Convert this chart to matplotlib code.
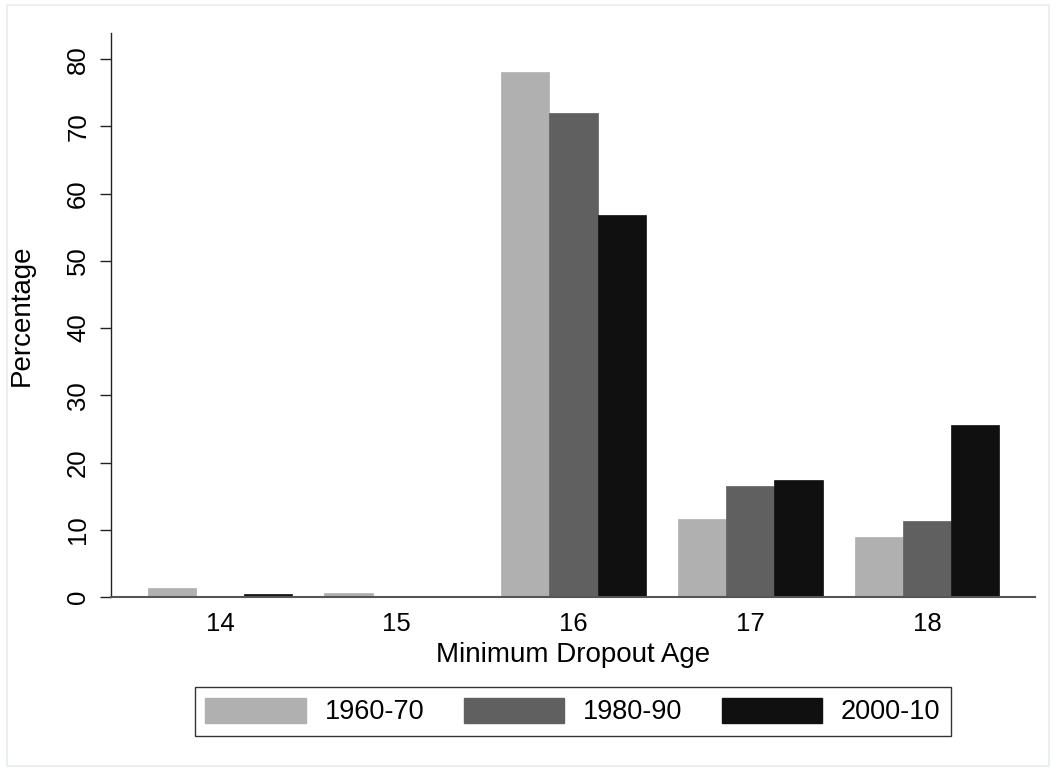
import numpy as np
import matplotlib
matplotlib.use('Agg')
import matplotlib.pyplot as plt
from matplotlib.patches import Rectangle, Patch

ages = [14, 15, 16, 17, 18]
periods = ['1960-70', '1980-90', '2000-10']
pct_1960 = [1.3, 0.55, 78.1, 11.6, 8.9]
pct_1980 = [0.15, 0.05, 72.0, 16.5, 11.3]
pct_2000 = [0.4, 0.1, 56.9, 17.4, 25.6]
colors = ['#b0b0b0', '#606060', '#101010']

plt.rcParams['font.family'] = ['Liberation Sans', 'DejaVu Sans']
plt.rcParams['font.size'] = 18

fig = plt.figure(figsize=(10.56, 7.71), dpi=100)

# light outer frame
fig.patches.append(Rectangle((7 / 1056, 5 / 771), 1042 / 1056, 761 / 771,
                             transform=fig.transFigure, fill=False,
                             edgecolor='#e6eef0', linewidth=1.2))

ax = fig.add_axes([111 / 1056, 1 - 597 / 771, 924 / 1056, 564 / 771])

x = np.array(ages, dtype=float)
w = 0.273
series = [pct_1960, pct_1980, pct_2000]
for i, (vals, c) in enumerate(zip(series, colors)):
    ax.bar(x + (i - 1) * w, vals, width=w, color=c, label=periods[i],
           edgecolor=c, linewidth=0.5)

ax.set_xlim(13.383, 18.611)
ax.set_ylim(0, 83.9)
ax.set_xticks(ages)
ax.set_yticks(range(0, 81, 10))

for s in ['top', 'right']:
    ax.spines[s].set_visible(False)
ax.spines['left'].set_color('#222222')
ax.spines['bottom'].set_color('#555555')
ax.spines['left'].set_linewidth(1.0)
ax.spines['bottom'].set_linewidth(1.5)

ax.tick_params(axis='x', length=0, pad=11, labelsize=18.5)
ax.tick_params(axis='y', length=8, width=1, pad=7, labelsize=18.5, color='#222222')
for lab in ax.get_yticklabels():
    lab.set_rotation(90)
    lab.set_va('center')

ax.set_xlabel('Minimum Dropout Age', fontsize=20)
ax.set_ylabel('Percentage', fontsize=20)
ax.xaxis.set_label_coords(0.5, -0.08)
ax.yaxis.set_label_coords(-0.082, 0.5)

handles = [Patch(facecolor=c, edgecolor=c) for c in colors]
leg = fig.legend(handles, periods, ncol=3, loc='center',
                 bbox_to_anchor=(573 / 1056, 1 - 711.5 / 771),
                 fancybox=False, frameon=True, fontsize=19.5,
                 handlelength=3.7, handleheight=1.04, handletextpad=0.7,
                 columnspacing=1.46, borderpad=0.4, borderaxespad=0)
leg.get_frame().set_edgecolor('black')
leg.get_frame().set_linewidth(1.0)

fig.savefig('out.png', dpi=100)
